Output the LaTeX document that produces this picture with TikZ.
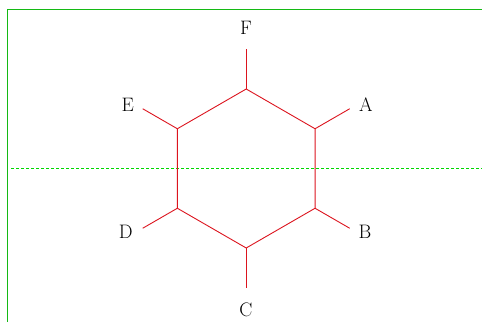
\documentclass[tikz,border=0pt]{standalone}
\usetikzlibrary{calc}
\definecolor{framegreen}{RGB}{20,185,20}
\definecolor{axisgreen}{RGB}{0,215,0}
\definecolor{bondred}{RGB}{220,20,30}
\begin{document}
\begin{tikzpicture}[x=1pt,y=1pt,
  greenbar/.style={fill=framegreen, draw=none},
  axisline/.style={draw=axisgreen, line width=0.9pt, dash pattern=on 3pt off 2pt},
  bond/.style={draw=bondred, line width=0.9pt},
  lbl/.style={inner sep=0pt, font=\fontsize{19.5}{23}\selectfont}]
\useasboundingbox (0,0) rectangle (482,322);
\coordinate (fl) at (7,0);
\coordinate (tl) at (8.2,313.2);
\coordinate (tr) at (482,312);
\fill[greenbar] (fl) rectangle (tl);
\fill[greenbar] (7,312) rectangle (482,313.2);
\coordinate (dl) at (11,153.5);
\coordinate (dr) at (482,153.5);
\draw[axisline] (dl) -- (dr);
\coordinate (c) at (246.2,153.5);
\foreach \n/\a in {vF/90,vA/30,vB/-30,vC/-90,vD/-150,vE/150}{
  \coordinate (\n) at ($(c)+(\a:79.5)$);
  \coordinate (s\n) at ($(c)+(\a:119.5)$);
}
\draw[bond] (vF) -- (vA) -- (vB) -- (vC) -- (vD) -- (vE) -- cycle;
\foreach \n in {vF,vA,vB,vC,vD,vE}{ \draw[bond] (\n) -- (s\n); }
\node[lbl] (F) at (246,293.7) {F};
\node[lbl] (A) at (366,217.7) {A};
\node[lbl] (E) at (127.7,217) {E};
\node[lbl] (B) at (365,89.7) {B};
\node[lbl] (D) at (125.7,89.7) {D};
\node[lbl] (C) at (246,12) {C};
\end{tikzpicture}
\end{document}
